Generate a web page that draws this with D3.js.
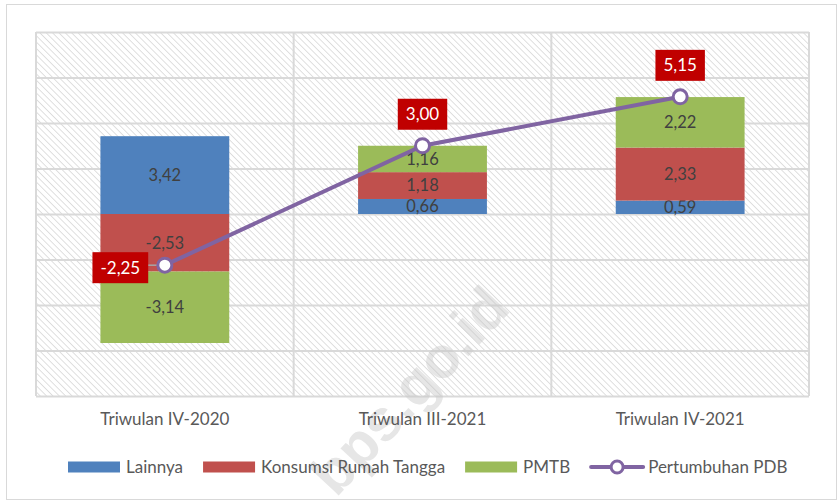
<!DOCTYPE html>
<html>
<head>
<meta charset="utf-8">
<script src="https://cdn.jsdelivr.net/npm/d3@7"></script>
<style>
  body { margin: 0; background: #fff; }
  svg { font-family: Lato, "Open Sans", sans-serif; }
</style>
</head>
<body>
<div id="chart"></div>
<script>
const categories = ["Triwulan IV-2020", "Triwulan III-2021", "Triwulan IV-2021"];
const lainnya = [3.42, 0.66, 0.59];
const konsumsi = [-2.53, 1.18, 2.33];
const pmtb = [-3.14, 1.16, 2.22];
const pdb = [-2.25, 3.00, 5.15];
const pdbLabelSide = ["left", "top", "top"];
const yDomain = [-8, 8];

const seriesNames = ["Lainnya", "Konsumsi Rumah Tangga", "PMTB"];
const seriesKeys = ["lainnya", "konsumsi", "pmtb"];
const colors = ["#4F81BD", "#C0504D", "#9BBB59"];
const lineColor = "#8064A2";

const W = 838, H = 500;
const plot = { left: 36, top: 32, right: 809, bottom: 396 };

const svg = d3.select("#chart").append("svg")
    .attr("width", W)
    .attr("height", H);

// hatch pattern
const defs = svg.append("defs");
defs.append("pattern")
    .attr("id", "hatch")
    .attr("patternUnits", "userSpaceOnUse")
    .attr("width", 4.5)
    .attr("height", 4.5)
    .attr("patternTransform", "rotate(-45)")
    .append("line")
    .attr("x1", 0).attr("y1", 0)
    .attr("x2", 0).attr("y2", 4.5)
    .attr("stroke", "#dcdcdc")
    .attr("stroke-width", 1.8);

// outer border
svg.append("rect")
   .attr("x", 6.5).attr("y", 4.5)
   .attr("width", 830).attr("height", 495)
   .attr("fill", "#fff")
   .attr("stroke", "#d9d9d9")
   .attr("stroke-width", 1);

const rows = categories.map((c, i) => ({ cat: c, lainnya: lainnya[i], konsumsi: konsumsi[i], pmtb: pmtb[i] }));

const x = d3.scaleBand().domain(categories).range([plot.left, plot.right]).paddingInner(0).paddingOuter(0);
const y = d3.scaleLinear().domain(yDomain).range([plot.bottom, plot.top]);

const barW = x.bandwidth() * 0.5;
const locale = d3.formatLocale({ decimal: ",", thousands: ".", grouping: [3], currency: ["", ""], minus: "-" });
const fmt = locale.format(".2f");

// plot background
svg.append("rect")
   .attr("x", plot.left).attr("y", plot.top)
   .attr("width", plot.right - plot.left).attr("height", plot.bottom - plot.top)
   .attr("fill", "url(#hatch)");

// horizontal gridlines
svg.append("g")
   .attr("class", "grid")
   .attr("transform", `translate(${plot.left},0)`)
   .call(d3.axisLeft(y).tickValues(d3.range(yDomain[0], yDomain[1] + 1, 2)).tickSize(-(plot.right - plot.left)).tickFormat(""))
   .call(g => g.select(".domain").remove())
   .call(g => g.selectAll("line").attr("stroke", "#d9d9d9").attr("stroke-width", 2));

// vertical gridlines at category boundaries
const bounds = categories.map(c => x(c)).concat([plot.right]);
svg.append("g")
   .selectAll("line")
   .data(bounds)
   .join("line")
   .attr("x1", d => d).attr("x2", d => d)
   .attr("y1", plot.top).attr("y2", plot.bottom)
   .attr("stroke", "#d9d9d9")
   .attr("stroke-width", 2);

// watermark
svg.append("text")
   .attr("transform", "translate(424,404) rotate(-47)")
   .attr("text-anchor", "middle")
   .attr("fill", "#c8c8c8")
   .attr("opacity", 0.45)
   .style("font-family", "'Liberation Sans', Arial, sans-serif")
   .style("font-weight", "bold")
   .style("font-size", "58px")
   .text("bps.go.id");

// stacked bars
const stacked = d3.stack().keys(seriesKeys).offset(d3.stackOffsetDiverging)(rows);

const layers = svg.append("g")
    .selectAll("g")
    .data(stacked)
    .join("g")
    .attr("fill", (d, i) => colors[i]);

layers.selectAll("rect")
    .data(d => d)
    .join("rect")
    .attr("x", d => x(d.data.cat) + (x.bandwidth() - barW) / 2)
    .attr("y", d => y(Math.max(d[0], d[1])))
    .attr("width", barW)
    .attr("height", d => Math.abs(y(d[0]) - y(d[1])));

// bar labels
layers.each(function(layer) {
    d3.select(this).selectAll("text")
      .data(layer)
      .join("text")
      .attr("x", d => x(d.data.cat) + x.bandwidth() / 2)
      .attr("y", d => (y(d[0]) + y(d[1])) / 2)
      .attr("dy", "0.35em")
      .attr("text-anchor", "middle")
      .attr("fill", "#404040")
      .style("font-size", "16.5px")
      .text(d => fmt(d.data[layer.key]));
});

// category labels
svg.append("g")
   .selectAll("text")
   .data(categories)
   .join("text")
   .attr("x", d => x(d) + x.bandwidth() / 2)
   .attr("y", 425)
   .attr("text-anchor", "middle")
   .attr("fill", "#595959")
   .style("font-size", "17px")
   .text(d => d);

// PDB line
const cx = (d, i) => x(categories[i]) + x.bandwidth() / 2;
const line = d3.line().x(cx).y(d => y(d));

svg.append("path")
   .datum(pdb)
   .attr("fill", "none")
   .attr("stroke", lineColor)
   .attr("stroke-width", 4)
   .attr("d", line);

// leader line for left label
svg.append("g")
   .selectAll("line")
   .data(pdb.map((v, i) => ({ v, i })).filter(d => pdbLabelSide[d.i] === "left"))
   .join("line")
   .attr("x1", d => cx(d.v, d.i) - 17).attr("x2", d => cx(d.v, d.i) - 6)
   .attr("y1", d => y(d.v)).attr("y2", d => y(d.v))
   .attr("stroke", "#a6a6a6")
   .attr("stroke-width", 1.5);

svg.append("g")
   .selectAll("circle")
   .data(pdb)
   .join("circle")
   .attr("cx", cx)
   .attr("cy", d => y(d))
   .attr("r", 7)
   .attr("fill", "#fff")
   .attr("stroke", lineColor)
   .attr("stroke-width", 3);

// PDB labels in red boxes
const pdbLabels = svg.append("g")
    .selectAll("g")
    .data(pdb)
    .join("g")
    .attr("transform", (d, i) => {
        const px = cx(d, i), py = y(d);
        return pdbLabelSide[i] === "left"
            ? `translate(${px - 44.5},${py + 2.5})`
            : `translate(${px},${py - 31.5})`;
    });

pdbLabels.append("text")
    .attr("text-anchor", "middle")
    .attr("dy", "0.35em")
    .attr("fill", "#fff")
    .style("font-size", "17px")
    .text(d => fmt(d));

pdbLabels.insert("rect", "text")
    .each(function() {
        const t = d3.select(this.parentNode).select("text").node().getComputedTextLength();
        d3.select(this)
          .attr("x", -(t / 2 + 8))
          .attr("y", -15.5)
          .attr("width", t + 16)
          .attr("height", 31)
          .attr("fill", "#C00000");
    });

// legend
const legend = svg.append("g").attr("transform", "translate(0,467)");
const items = seriesNames.map((n, i) => ({ name: n, color: colors[i], type: "rect" }))
    .concat([{ name: "Pertumbuhan PDB", color: lineColor, type: "line" }]);

let lx = 68;
items.forEach(it => {
    const g = legend.append("g").attr("transform", `translate(${lx},0)`);
    if (it.type === "rect") {
        g.append("rect").attr("x", 0).attr("y", -5.5).attr("width", 52).attr("height", 11).attr("fill", it.color);
    } else {
        g.append("line").attr("x1", 1).attr("x2", 53).attr("y1", 0).attr("y2", 0)
         .attr("stroke", it.color).attr("stroke-width", 4).attr("stroke-linecap", "round");
        g.append("circle").attr("cx", 27).attr("cy", 0).attr("r", 6)
         .attr("fill", "#fff").attr("stroke", it.color).attr("stroke-width", 3);
    }
    const t = g.append("text")
        .attr("x", 58)
        .attr("dy", "0.35em")
        .attr("fill", "#595959")
        .style("font-size", "17px")
        .text(it.name);
    lx += 58 + t.node().getComputedTextLength() + 20;
});
</script>
</body>
</html>
